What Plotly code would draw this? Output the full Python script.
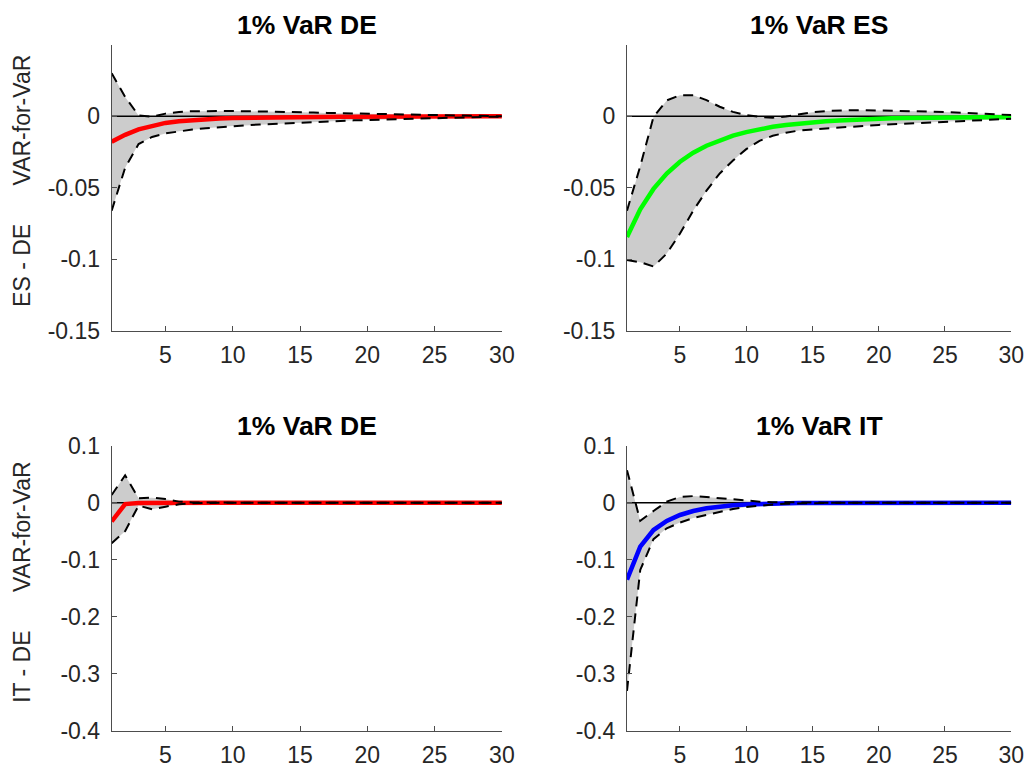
import plotly.graph_objects as go

# ---------------- data ----------------
horizons = list(range(1, 31))

# Panel 1: 1% VaR DE  ->  ES - DE
p1_mid = [-0.0178, -0.0130, -0.0092, -0.0066, -0.0047, -0.0035, -0.0027, -0.0021, -0.0016, -0.0013,
          -0.0011, -0.0009, -0.0008, -0.0007, -0.0006, -0.0005, -0.0005, -0.0004, -0.0004, -0.0003,
          -0.0003, -0.0003, -0.0002, -0.0002, -0.0002, -0.0002, -0.0001, -0.0001, -0.0001, -0.0001]
p1_up = [0.0300, 0.0135, 0.0005, -0.0004, 0.0018, 0.0030, 0.0035, 0.0037, 0.0037, 0.0036,
         0.0035, 0.0034, 0.0032, 0.0030, 0.0028, 0.0026, 0.0023, 0.0021, 0.0018, 0.0016,
         0.0013, 0.0010, 0.0008, 0.0006, 0.0004, 0.0003, 0.0002, 0.0001, 0.0001, 0.0000]
p1_lo = [-0.0660, -0.0360, -0.0195, -0.0145, -0.0120, -0.0105, -0.0093, -0.0084, -0.0076, -0.0069,
         -0.0063, -0.0058, -0.0053, -0.0048, -0.0044, -0.0040, -0.0036, -0.0033, -0.0029, -0.0026,
         -0.0023, -0.0020, -0.0017, -0.0015, -0.0012, -0.0010, -0.0008, -0.0006, -0.0004, -0.0003]

# Panel 2: 1% VaR ES  ->  ES - DE
p2_mid = [-0.0844, -0.0650, -0.0508, -0.0400, -0.0318, -0.0255, -0.0206, -0.0167, -0.0136, -0.0111,
          -0.0090, -0.0074, -0.0061, -0.0051, -0.0043, -0.0036, -0.0030, -0.0025, -0.0021, -0.0018,
          -0.0015, -0.0013, -0.0011, -0.0010, -0.0009, -0.0008, -0.0008, -0.0007, -0.0007, -0.0007]
p2_up = [-0.0660, -0.0350, -0.0005, 0.0110, 0.0147, 0.0147, 0.0112, 0.0066, 0.0030, 0.0008,
         -0.0005, -0.0010, -0.0002, 0.0015, 0.0028, 0.0036, 0.0040, 0.0042, 0.0042, 0.0041,
         0.0040, 0.0038, 0.0035, 0.0032, 0.0029, 0.0025, 0.0021, 0.0017, 0.0012, 0.0008]
p2_lo = [-0.1005, -0.1020, -0.1050, -0.0960, -0.0820, -0.0660, -0.0520, -0.0400, -0.0310, -0.0230,
         -0.0172, -0.0137, -0.0115, -0.0100, -0.0092, -0.0085, -0.0078, -0.0072, -0.0066, -0.0061,
         -0.0056, -0.0051, -0.0047, -0.0043, -0.0039, -0.0035, -0.0031, -0.0027, -0.0023, -0.0018]

# Panel 3: 1% VaR DE  ->  IT - DE
p3_mid = [-0.0330, -0.0025, -0.0008, -0.0004, -0.0002, -0.0001, 0.0, 0.0, 0.0, 0.0,
          0.0, 0.0, 0.0, 0.0, 0.0, 0.0, 0.0, 0.0, 0.0, 0.0,
          0.0, 0.0, 0.0, 0.0, 0.0, 0.0, 0.0, 0.0, 0.0, 0.0]
p3_up = [0.0134, 0.0480, 0.0076, 0.0088, 0.0062, 0.0018, 0.0003, -0.0002, -0.0002, 0.0,
         0.0, 0.0, 0.0, 0.0, 0.0, 0.0, 0.0, 0.0, 0.0, 0.0,
         0.0, 0.0, 0.0, 0.0, 0.0, 0.0, 0.0, 0.0, 0.0, 0.0]
p3_lo = [-0.0710, -0.0500, -0.0050, -0.0117, -0.0070, -0.0030, -0.0010, -0.0003, 0.0, 0.0,
         0.0, 0.0, 0.0, 0.0, 0.0, 0.0, 0.0, 0.0, 0.0, 0.0,
         0.0, 0.0, 0.0, 0.0, 0.0, 0.0, 0.0, 0.0, 0.0, 0.0]

# Panel 4: 1% VaR IT  ->  IT - DE
p4_mid = [-0.1350, -0.0770, -0.0480, -0.0320, -0.0216, -0.0146, -0.0099, -0.0068, -0.0047, -0.0033,
          -0.0023, -0.0016, -0.0011, -0.0008, -0.0005, -0.0004, -0.0003, -0.0002, -0.0001, -0.0001,
          0.0, 0.0, 0.0, 0.0, 0.0, 0.0, 0.0, 0.0, 0.0, 0.0]
p4_up = [0.0570, -0.0320, -0.0146, 0.0017, 0.0100, 0.0115, 0.0099, 0.0076, 0.0052, 0.0032,
         0.0018, 0.0009, 0.0004, 0.0002, 0.0001, 0.0, 0.0, 0.0, 0.0, 0.0,
         0.0, 0.0, 0.0, 0.0, 0.0, 0.0, 0.0, 0.0, 0.0, 0.0]
p4_lo = [-0.3300, -0.1180, -0.0640, -0.0450, -0.0350, -0.0270, -0.0216, -0.0157, -0.0110, -0.0076,
         -0.0050, -0.0032, -0.0020, -0.0012, -0.0007, -0.0004, -0.0002, -0.0001, 0.0, 0.0,
         0.0, 0.0, 0.0, 0.0, 0.0, 0.0, 0.0, 0.0, 0.0, 0.0]

titles = ["1% VaR DE", "1% VaR ES", "1% VaR DE", "1% VaR IT"]
row_labels = ["ES - DE", "IT - DE"]
label_suffix = "VAR-for-VaR"
x_ticks = [5, 10, 15, 20, 25, 30]
y_ticks_top = [-0.15, -0.1, -0.05, 0]
y_ticks_top_text = ["-0.15", "-0.1", "-0.05", "0"]
y_ticks_bottom = [-0.4, -0.3, -0.2, -0.1, 0, 0.1]
y_ticks_bottom_text = ["-0.4", "-0.3", "-0.2", "-0.1", "0", "0.1"]

# ---------------- geometry ----------------
# target positions are given in screen pixels; map them to figure pixels
FIG_W, FIG_H = 1050, 776
SX, BX = 0.987, 7.4
SY, BY = 0.969, 19.3


def fx(px):
    return ((px - BX) / SX) / FIG_W


def fy(py):
    return 1 - ((py - BY) / SY) / FIG_H


line_colors = ["#ff0000", "#00ff00", "#ff0000", "#0000ff"]
x_dom = [[fx(111), fx(501)], [fx(626), fx(1010)]]
y_dom = [[fy(330), fy(43)], [fy(731), fy(445)]]
y_ranges = [[-0.15, 0.05], [-0.4, 0.1]]
y_tickvals = [y_ticks_top, y_ticks_bottom]
y_ticktext = [y_ticks_top_text, y_ticks_bottom_text]
title_y_px = [23, 425]
label_y_px = [180, 582]

panels = [
    (p1_mid, p1_up, p1_lo),
    (p2_mid, p2_up, p2_lo),
    (p3_mid, p3_up, p3_lo),
    (p4_mid, p4_up, p4_lo),
]

FONT = "Liberation Sans, Arial, Helvetica, sans-serif"
fig = go.Figure()
axis_col = "#4d4d4d"
tick_font = dict(family=FONT, size=23, color="#262626")
annotations = []

for i, (mid, up, lo) in enumerate(panels):
    n = i + 1
    xa = "x" if n == 1 else f"x{n}"
    ya = "y" if n == 1 else f"y{n}"
    row, col = i // 2, i % 2
    zeros = [0.0 for _ in horizons]

    # shaded band
    fig.add_trace(go.Scatter(
        x=horizons + horizons[::-1], y=up + lo[::-1],
        fill="toself", fillcolor="#cccccc", line=dict(width=0),
        mode="lines", hoverinfo="skip", showlegend=False, xaxis=xa, yaxis=ya))
    # zero line
    fig.add_trace(go.Scatter(
        x=horizons, y=zeros, mode="lines", line=dict(color="#000000", width=1.5),
        showlegend=False, xaxis=xa, yaxis=ya))
    # point estimate
    fig.add_trace(go.Scatter(
        x=horizons, y=mid, mode="lines", line=dict(color=line_colors[i], width=4.5),
        showlegend=False, xaxis=xa, yaxis=ya))
    # confidence bounds
    for band in (up, lo):
        fig.add_trace(go.Scatter(
            x=horizons, y=band, mode="lines",
            line=dict(color="#000000", width=2, dash="10px,7px"),
            showlegend=False, xaxis=xa, yaxis=ya))

    xkey = "xaxis" if n == 1 else f"xaxis{n}"
    ykey = "yaxis" if n == 1 else f"yaxis{n}"
    fig.update_layout(**{
        xkey: dict(domain=x_dom[col], anchor=ya, range=[1, 30], tickvals=x_ticks,
                   showgrid=False, zeroline=False, showline=True, linecolor=axis_col, linewidth=1,
                   ticks="inside", ticklen=5, tickcolor=axis_col, tickfont=tick_font,
                   ticklabelstandoff=4),
        ykey: dict(domain=y_dom[row], anchor=xa, range=y_ranges[row],
                   tickvals=y_tickvals[row], ticktext=y_ticktext[row],
                   showgrid=False, zeroline=False, showline=True, linecolor=axis_col, linewidth=1,
                   ticks="inside", ticklen=5, tickcolor=axis_col, tickfont=tick_font,
                   ticklabelstandoff=6),
    })

    annotations.append(dict(
        text=f"<b>{titles[i]}</b>", x=(x_dom[col][0] + x_dom[col][1]) / 2, y=fy(title_y_px[row]),
        xref="paper", yref="paper", xanchor="center", yanchor="middle", showarrow=False,
        font=dict(family=FONT, size=26.5, color="#000000")))

for r in range(2):
    annotations.append(dict(
        text=row_labels[r] + "\u00a0" * 6 + label_suffix,
        x=fx(22), y=fy(label_y_px[r]), xref="paper", yref="paper",
        xanchor="center", yanchor="middle", textangle=-90, showarrow=False,
        font=dict(family=FONT, size=23, color="#262626")))

fig.update_layout(
    width=FIG_W, height=FIG_H, margin=dict(l=0, r=0, t=0, b=0),
    paper_bgcolor="#ffffff", plot_bgcolor="#ffffff",
    annotations=annotations, showlegend=False,
)

fig.write_html("out.html")
